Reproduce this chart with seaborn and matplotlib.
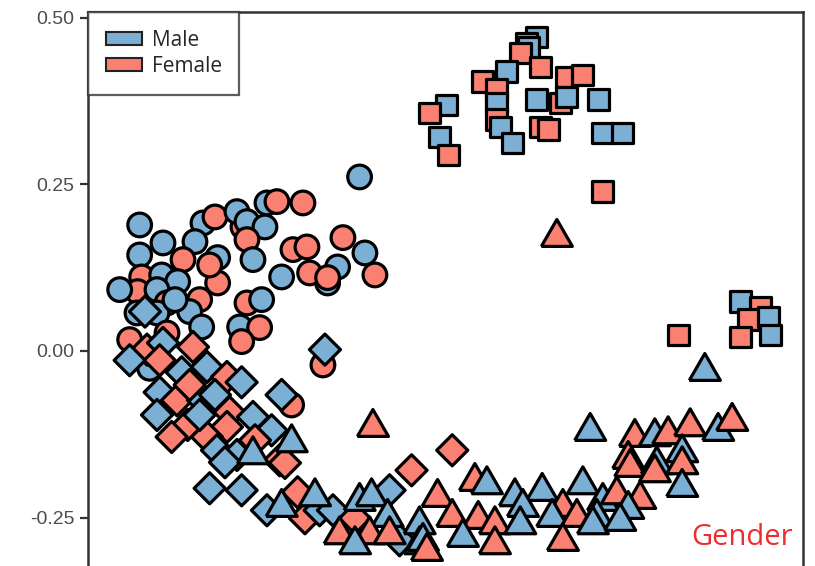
import pandas as pd
import matplotlib.pyplot as plt
from matplotlib.patches import Patch
import seaborn as sns

# colours for the two sexes
palette = {'M': '#7bafd4', 'F': '#fa8072'}
legend_labels = {'M': 'Male', 'F': 'Female'}

# circles
circle_x = [-0.128, -0.267, -0.252, -0.213, -0.458, -0.363, -0.345, -0.303, -0.312, -0.297,
            -0.270, -0.423, -0.375, -0.297, -0.153, -0.228, -0.207, -0.393, -0.458, -0.341,
            -0.288, -0.120, -0.161, -0.176, -0.203, -0.176, -0.105, -0.245, -0.455, -0.425,
            -0.341, -0.401, -0.461, -0.488, -0.432, -0.368, -0.417, -0.297, -0.275, -0.383,
            -0.462, -0.432, -0.365, -0.308, -0.278, -0.305, -0.473, -0.183, -0.230, -0.443,
            -0.417, -0.405, -0.353]
circle_y = [0.261, 0.222, 0.224, 0.222, 0.189, 0.192, 0.201, 0.186, 0.209, 0.194,
            0.186, 0.162, 0.164, 0.167, 0.170, 0.152, 0.156, 0.137, 0.144, 0.140,
            0.137, 0.147, 0.126, 0.102, 0.117, 0.110, 0.114, 0.111, 0.111, 0.114,
            0.102, 0.104, 0.089, 0.092, 0.092, 0.077, 0.072, 0.072, 0.077, 0.059,
            0.057, 0.057, 0.036, 0.036, 0.035, 0.014, 0.017, -0.021, -0.081, -0.026,
            0.027, 0.077, 0.129]
circle_sex = list('MMFFMMFFMM' 'MMMFFFFFMM' 'MMMMFFFMFM' 'FMFMMFFFMM' 'MMMMFFFFFM' 'FMF')

# diamonds
diamond_x = [-0.447, -0.473, -0.450, -0.423, -0.378, -0.428, -0.395, -0.357, -0.327, -0.305,
             -0.428, -0.402, -0.363, -0.245, -0.323, -0.432, -0.386, -0.410, -0.288, -0.327,
             -0.357, -0.260, -0.342, -0.312, -0.248, -0.330, -0.305, -0.180, -0.267, -0.221,
             -0.210, -0.188, -0.168, -0.083, -0.135, -0.050, 0.011, -0.068, -0.353, -0.240,
             -0.368, -0.285, -0.383, -0.345]
diamond_y = [0.002, -0.014, 0.059, 0.012, 0.006, -0.014, -0.032, -0.024, -0.039, -0.047,
             -0.062, -0.074, -0.074, -0.066, -0.092, -0.096, -0.111, -0.129, -0.099, -0.114,
             -0.129, -0.119, -0.149, -0.156, -0.164, -0.167, -0.209, 0.002, -0.239, -0.212,
             -0.251, -0.239, -0.239, -0.209, -0.251, -0.179, -0.149, -0.284, -0.206, -0.168,
             -0.096, -0.134, -0.051, -0.066]
diamond_sex = list('FMMMFFMMFM' 'MFMMFMFFMF' 'FMMMFMMMMF' 'FMMMFFFMMF' 'MFFM')

# triangles
triangle_x = [0.168, 0.390, -0.108, 0.218, -0.230, -0.288, -0.245, -0.195, -0.128, -0.110,
              -0.086, -0.113, -0.038, -0.083, -0.038, 0.045, 0.063, -0.011, 0.105, 0.146,
              0.207, 0.177, 0.117, 0.011, 0.050, 0.075, 0.161, 0.198, 0.237, 0.258,
              0.027, 0.113, 0.075, 0.177, -0.033, -0.027, 0.228, 0.285, 0.315, 0.335,
              0.368, 0.410, 0.431, 0.275, 0.278, 0.318, 0.315, 0.356, 0.356, 0.356,
              0.293, 0.275, 0.222, 0.263, -0.158, -0.135]
triangle_y = [0.177, -0.024, -0.108, -0.114, -0.131, -0.149, -0.228, -0.212, -0.219, -0.212,
              -0.243, -0.269, -0.254, -0.269, -0.284, -0.189, -0.194, -0.213, -0.212, -0.204,
              -0.194, -0.228, -0.228, -0.243, -0.246, -0.254, -0.243, -0.243, -0.219, -0.209,
              -0.273, -0.254, -0.284, -0.279, -0.279, -0.294, -0.243, -0.123, -0.122, -0.119,
              -0.107, -0.114, -0.099, -0.156, -0.168, -0.164, -0.176, -0.146, -0.164, -0.198,
              -0.216, -0.231, -0.254, -0.249, -0.269, -0.284]
triangle_sex = list('FMFMMMMMMM' 'MFMFMFMFMM' 'MFMFFFMFMF' 'MMFFMFMFMF' 'FMFFFMFMFM' 'FMMMFM')

# squares
square_x = [0.138, 0.123, 0.125, 0.113, 0.057, 0.093, 0.078, 0.078, 0.078, 0.083,
            0.143, 0.138, 0.143, 0.155, 0.183, 0.206, 0.173, 0.183, 0.230, 0.237,
            0.267, 0.003, -0.023, -0.008, 0.005, 0.236, 0.102, 0.443, 0.473, 0.455,
            0.485, 0.443, 0.488, 0.350]
square_y = [0.471, 0.462, 0.455, 0.447, 0.404, 0.419, 0.392, 0.372, 0.347, 0.336,
            0.426, 0.377, 0.336, 0.332, 0.411, 0.414, 0.372, 0.381, 0.377, 0.327,
            0.327, 0.369, 0.357, 0.321, 0.294, 0.239, 0.312, 0.074, 0.066, 0.047,
            0.051, 0.021, 0.024, 0.024]
square_sex = list('MFMFFMFMFM' 'FMFFFFFMMM' 'MMFMFFMMFF' 'MFMF')

y_ticks = [0.50, 0.25, 0.00, -0.25]
y_tick_labels = ['0.50', '0.25', '0.00', '-0.25']

sns.set_theme(style='white')
plt.rcParams['font.family'] = ['Liberation Sans', 'DejaVu Sans']

fig = plt.figure(figsize=(8.15, 5.66), dpi=100)
ax = fig.add_axes([0.108, -0.06, 0.877, 1.0389])

# equilateral triangle like the ggplot filled triangle
tri = [(-1.0, -0.866), (1.0, -0.866), (0.0, 0.866), (-1.0, -0.866)]

groups = [
    (circle_x, circle_y, circle_sex, 'o', 290),
    (diamond_x, diamond_y, diamond_sex, 'D', 250),
    (triangle_x, triangle_y, triangle_sex, tri, 500),
    (square_x, square_y, square_sex, 's', 225),
]
for gx, gy, gs, mk, size in groups:
    df = pd.DataFrame({'PC1': gx, 'PC2': gy, 'Sex': gs})
    sns.scatterplot(data=df, x='PC1', y='PC2', hue='Sex', palette=palette,
                    marker=mk, s=size, edgecolor='black', linewidth=2.3,
                    legend=False, ax=ax, zorder=3)

ax.set_xlim(-0.5355, 0.537)
ax.set_ylim(-0.3735, 0.5085)
ax.set_xticks([])
ax.set_yticks(y_ticks)
ax.set_yticklabels(y_tick_labels)
ax.set_xlabel('')
ax.set_ylabel('')
ax.tick_params(axis='y', left=True, length=6, width=1.6, color='#333333',
               labelsize=14, labelcolor='#4d4d4d', pad=4)
for sp in ax.spines.values():
    sp.set_visible(True)
    sp.set_color('#333333')
    sp.set_linewidth(1.8)

handles = [Patch(facecolor=palette[k], edgecolor='#222222', linewidth=1.5,
                 label=legend_labels[k]) for k in ['M', 'F']]
leg = ax.legend(handles=handles, loc='upper left', bbox_to_anchor=(0, 1),
                borderaxespad=0, fancybox=False,
                prop={'family': ['Open Sans', 'DejaVu Sans'], 'size': 15},
                handlelength=1.75, handleheight=0.6, handletextpad=0.45,
                labelspacing=0.25, borderpad=0.85)
leg.get_frame().set_edgecolor('#333333')
leg.get_frame().set_linewidth(1.6)
leg.set_zorder(5)

fig.text(0.910, 0.051, 'Gender', color='#ee2c2c', fontsize=21,
         family=['Open Sans', 'DejaVu Sans'], ha='center', va='center')

fig.savefig('out.png', dpi=100)
